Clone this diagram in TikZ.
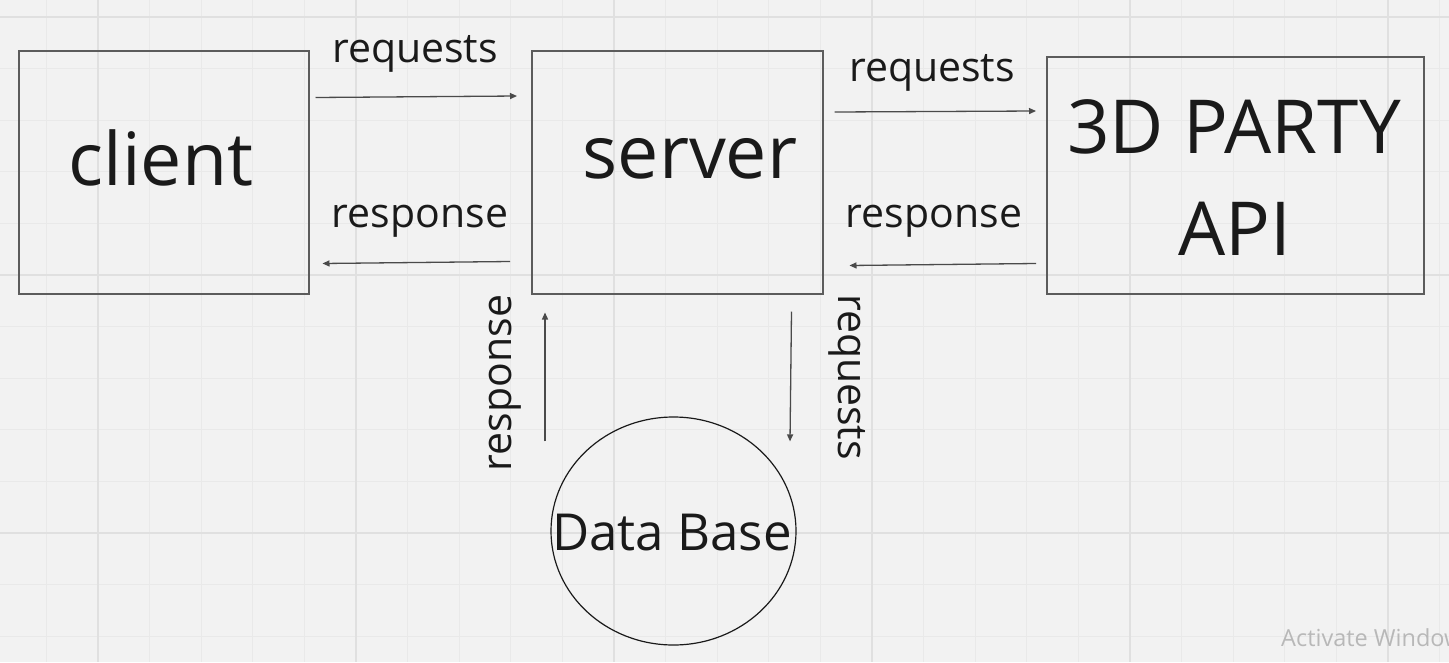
\documentclass[tikz,border=0pt]{standalone}
\usepackage{fontspec}
\setmainfont{Open Sans}
\usetikzlibrary{arrows.meta,shapes.geometric,calc}
\definecolor{bg}{HTML}{F2F2F2}
\definecolor{gridminor}{HTML}{E9E9E9}
\definecolor{gridmajor}{HTML}{E0E0E0}
\definecolor{ink}{HTML}{1A1A1A}
\definecolor{edge}{HTML}{5C5C5C}
\definecolor{arrowcol}{HTML}{4A4A4A}
\definecolor{watermark}{HTML}{B8B8B8}
\begin{document}
\begin{tikzpicture}[x=1pt,y=-1pt,
  box/.style={draw=edge,line width=1.5pt,inner sep=0pt,anchor=north west},
  big/.style={font=\fontsize{73.5}{80}\selectfont,text=ink,anchor=base,inner sep=0pt},
  lbl/.style={font=\fontsize{41}{48}\selectfont,text=ink,anchor=base,inner sep=0pt},
  conn/.style={draw=arrowcol,line width=1.3pt,-{Triangle[length=7pt,width=6pt]}}]
\clip (0,0) rectangle (1449,662);
\fill[bg] (0,0) rectangle (1449,662);
\foreach \k in {-1,...,26} \draw[gridminor,line width=1pt] ({98+51.6*\k},0) -- ++(0,662);
\foreach \k in {0,...,12} \draw[gridminor,line width=1pt] (0,{17+51.6*\k}) -- ++(1449,0);
\foreach \k in {0,5,...,25} \draw[gridmajor,line width=1.3pt] ({98+51.6*\k},0) -- ++(0,662);
\foreach \k in {0,5,10} \draw[gridmajor,line width=1.3pt] (0,{17+51.6*\k}) -- ++(1449,0);

\node[box,minimum width=290pt,minimum height=243pt] (client) at (18,50) {};
\node[box,minimum width=291pt,minimum height=243pt] (server) at (531,50) {};
\node[box,minimum width=377pt,minimum height=237pt] (api) at (1046,56) {};
\node[draw=ink,line width=1.2pt,ellipse,minimum width=245pt,minimum height=228pt,inner sep=0pt] (db) at (673.5,531) {};

\node[big] (clienttxt) at (161,185) {client};
\node[big] (servertxt) at (690,178) {server};
\node[big,font=\fontsize{74.5}{80}\selectfont] (apitxta) at (1234,153) {3D PARTY};
\node[big,font=\fontsize{74.5}{80}\selectfont] (apitxtb) at (1235,255) {API};
\node[big,font=\fontsize{51}{60}\selectfont] (dbtxt) at (672,550) {Data Base};

\node[lbl] (lreqa) at (415,62) {requests};
\node[lbl] (lresa) at (420,227) {response};
\node[lbl] (lreqb) at (932,81) {requests};
\node[lbl] (lresb) at (934,227) {response};
\node[lbl,rotate=90] (lresc) at (511,383) {response};
\node[lbl,rotate=-90] (lreqc) at (838,377) {requests};

\draw[conn] ($(client.north east)+(6,47.5)$) -- ($(server.north west)+(-14,46)$);
\draw[conn] ($(server.south west)+(-21,-33)$) -- ($(client.south east)+(13,-31)$);
\draw[conn] ($(server.north east)+(11,62)$) -- ($(api.north west)+(-10,55)$);
\draw[conn] ($(api.south west)+(-10,-31)$) -- ($(server.south east)+(26,-29)$);
\draw[conn] ($(db.north)+(-128.5,25)$) -- ($(server.south west)+(14,18)$);
\draw[conn] ($(server.south east)+(-32,17)$) -- ($(db.north)+(116.5,25)$);

\node[anchor=base west,font=\fontsize{23.5}{26}\selectfont,text=watermark,inner sep=0pt] (wm) at (1281,646) {Activate Windows};
\end{tikzpicture}
\end{document}
